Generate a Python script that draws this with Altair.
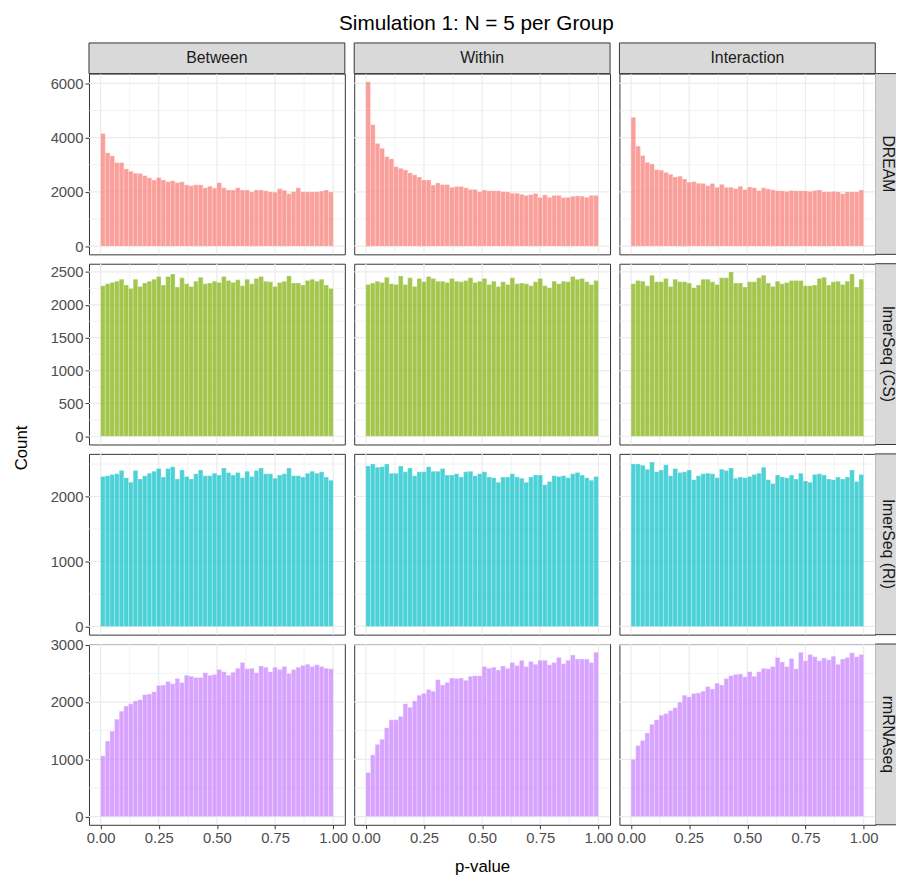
import altair as alt
import pandas as pd

# ---------------- data ----------------
methods = ["DREAM", "lmerSeq (CS)", "lmerSeq (RI)", "rmRNAseq"]
contrasts = ["Between", "Within", "Interaction"]
colors = ["#F8766D", "#7CAE00", "#00BFC4", "#C77CFF"]

bin_width = 0.02
bin_starts = [round(i * bin_width, 2) for i in range(50)]

dream_between = [4150,3440,3330,3080,3080,2850,2760,2690,2680,2600,2520,2440,2530,2440,2380,2410,2340,2370,2260,2230,2260,2260,2150,2210,2140,2340,2150,2070,2070,2150,2070,2070,2000,2070,2070,2040,2000,1990,2120,2060,1930,2010,2150,2000,2000,2000,2000,2030,2070,2000]
dream_within = [6060,4480,3790,3610,3300,3220,2930,2870,2810,2700,2630,2550,2440,2440,2250,2330,2270,2270,2170,2200,2200,2150,2090,2090,2010,2070,2040,2040,2040,2010,2000,1950,1950,1910,1870,1900,1940,1790,1890,1800,1870,1870,1790,1800,1840,1850,1840,1800,1870,1870]
dream_inter = [4750,3690,3340,3090,3030,2820,2800,2720,2650,2550,2580,2480,2360,2380,2320,2310,2230,2310,2170,2280,2170,2170,2120,2210,2090,2180,2150,2050,2150,2110,2070,2040,2040,2020,2050,2040,2040,2040,2020,2050,2070,2000,2000,2020,2000,1930,2000,2000,2000,2070]

cs_between = [2290,2320,2340,2360,2390,2300,2250,2390,2280,2330,2360,2390,2430,2300,2430,2470,2270,2410,2320,2280,2360,2420,2320,2330,2360,2340,2430,2370,2340,2380,2290,2390,2320,2400,2430,2360,2350,2280,2340,2360,2440,2330,2330,2300,2370,2390,2360,2390,2300,2250]
cs_within = [2310,2330,2360,2340,2420,2320,2310,2440,2310,2410,2280,2400,2350,2430,2400,2360,2360,2340,2400,2360,2350,2370,2410,2340,2360,2400,2310,2360,2280,2350,2310,2410,2320,2330,2320,2290,2350,2400,2290,2260,2360,2320,2360,2350,2430,2390,2400,2350,2310,2370]
cs_inter = [2320,2370,2360,2290,2450,2350,2350,2400,2280,2390,2350,2350,2330,2260,2300,2390,2390,2350,2310,2410,2410,2500,2330,2330,2270,2350,2350,2410,2450,2330,2280,2360,2320,2340,2370,2370,2370,2290,2290,2300,2400,2420,2300,2350,2360,2310,2360,2470,2270,2390]

ri_between = [2310,2320,2340,2350,2400,2290,2220,2400,2270,2320,2360,2390,2430,2300,2430,2460,2270,2410,2310,2270,2350,2410,2320,2320,2360,2330,2440,2370,2330,2370,2290,2390,2310,2400,2440,2350,2350,2280,2330,2350,2440,2320,2320,2300,2360,2390,2360,2380,2300,2250]
ri_within = [2470,2500,2450,2460,2500,2360,2360,2470,2380,2440,2320,2380,2380,2460,2390,2390,2430,2330,2330,2350,2300,2380,2390,2320,2350,2380,2300,2290,2220,2300,2300,2350,2300,2280,2220,2300,2330,2330,2180,2230,2320,2310,2320,2290,2350,2370,2330,2290,2250,2310]
ri_inter = [2500,2500,2480,2420,2530,2380,2410,2490,2320,2430,2370,2380,2410,2260,2320,2350,2360,2350,2290,2420,2400,2440,2280,2300,2290,2310,2340,2360,2450,2260,2200,2330,2300,2290,2330,2270,2360,2240,2220,2340,2350,2330,2270,2260,2300,2270,2300,2410,2230,2340]

rm_between = [1060,1320,1490,1700,1840,1930,1970,2020,2040,2130,2140,2180,2290,2300,2360,2320,2410,2340,2470,2450,2430,2430,2510,2470,2480,2570,2530,2470,2520,2590,2690,2580,2590,2510,2630,2610,2530,2610,2570,2620,2500,2570,2610,2640,2660,2620,2650,2620,2590,2580]
rm_within = [770,1080,1260,1350,1550,1690,1690,1750,1970,1910,2020,2120,2150,2220,2190,2390,2300,2340,2420,2410,2420,2380,2450,2460,2460,2620,2590,2610,2560,2630,2590,2690,2640,2730,2620,2710,2660,2730,2730,2650,2690,2780,2670,2730,2820,2750,2750,2750,2690,2870]
rm_inter = [1000,1240,1330,1460,1610,1690,1770,1800,1850,1900,2000,2120,2090,2150,2160,2190,2270,2230,2330,2300,2410,2460,2480,2490,2440,2530,2450,2530,2590,2580,2620,2780,2700,2620,2760,2580,2870,2720,2830,2790,2720,2770,2740,2800,2660,2750,2780,2860,2790,2830]

counts = [
    [dream_between, dream_within, dream_inter],
    [cs_between, cs_within, cs_inter],
    [ri_between, ri_within, ri_inter],
    [rm_between, rm_within, rm_inter],
]

y_ticks = [
    [0, 2000, 4000, 6000],
    [0, 500, 1000, 1500, 2000, 2500],
    [0, 1000, 2000],
    [0, 1000, 2000, 3000],
]
x_ticks = [0, 0.25, 0.5, 0.75, 1.0]

# ---------------- layout constants ----------------
W = 259
H = 183
GAP = 9.5
STRIP_H = 31
STRIP_W = 21
FONT = "Liberation Sans"
BORDER = "#333333"
STRIP_FILL = "#D9D9D9"
GRID = "#EBEBEB"
TICK_FS = 15
STRIP_FS = 16
AXTITLE_FS = 17

x_dom = [-0.05, 1.05]
x_minor = [(a + b) / 2 for a, b in zip(x_ticks[:-1], x_ticks[1:])]


def minor_of(ticks, dmax):
    step = ticks[1] - ticks[0]
    mids = [(a + b) / 2 for a, b in zip(ticks[:-1], ticks[1:])]
    if ticks[-1] + step / 2 <= dmax:
        mids.append(ticks[-1] + step / 2)
    return mids


one = pd.DataFrame({"k": [0]})


def make_panel(ri, ci):
    row_max = max(max(c) for c in counts[ri])
    y_dom = [-0.05 * row_max, 1.05 * row_max]
    xs = alt.Scale(domain=x_dom, nice=False, zero=False)
    ys = alt.Scale(domain=y_dom, nice=False, zero=False)

    df = pd.DataFrame({
        "x0": bin_starts,
        "x1": [round(b + bin_width, 2) for b in bin_starts],
        "count": counts[ri][ci],
    })

    if ri == 3:
        x_axis = alt.Axis(values=x_ticks, format=".2f", grid=False, domain=False,
                          title="p-value" if ci == 1 else None,
                          titleFontSize=AXTITLE_FS, titleFontWeight="normal", titleColor="black",
                          titlePadding=13, labelFlush=False, labelOverlap=False, labelBound=False)
    else:
        x_axis = None
    if ci == 0:
        y_kwargs = dict(values=y_ticks[ri], format="d", grid=False, domain=False, labelFlush=False,
                        labelOverlap=False, labelBound=False)
        if ri == 1:
            y_kwargs.update(title="Count", titleFontSize=AXTITLE_FS, titleFontWeight="normal",
                            titleColor="black", titleX=-59, titleY=186)
        else:
            y_kwargs.update(title=None)
        y_axis = alt.Axis(**y_kwargs)
    else:
        y_axis = None

    gx_min = alt.Chart(pd.DataFrame({"g": x_minor})).mark_rule(color=GRID, strokeWidth=0.6).encode(
        x=alt.X("g:Q", scale=xs, axis=x_axis))
    gx_maj = alt.Chart(pd.DataFrame({"g": x_ticks})).mark_rule(color=GRID, strokeWidth=1.2).encode(
        x=alt.X("g:Q", scale=xs, axis=x_axis))
    gy_min = alt.Chart(pd.DataFrame({"g": minor_of(y_ticks[ri], y_dom[1])})).mark_rule(color=GRID, strokeWidth=0.6).encode(
        y=alt.Y("g:Q", scale=ys, axis=y_axis))
    gy_maj = alt.Chart(pd.DataFrame({"g": y_ticks[ri]})).mark_rule(color=GRID, strokeWidth=1.2).encode(
        y=alt.Y("g:Q", scale=ys, axis=y_axis))

    bars = alt.Chart(df).mark_rect(
        fill=colors[ri], fillOpacity=0.7, stroke="white", strokeWidth=0.4, strokeOpacity=0.7
    ).encode(
        x=alt.X("x0:Q", scale=xs, axis=x_axis),
        x2="x1:Q",
        y=alt.Y("count:Q", scale=ys, axis=y_axis),
        y2=alt.datum(0),
    )

    layers = [gx_min, gx_maj, gy_min, gy_maj, bars]

    if ri == 0:
        top_rect = alt.Chart(one).mark_rect(fill=STRIP_FILL, stroke=BORDER, strokeWidth=1).encode(
            x=alt.value(0), x2=alt.value(W), y=alt.value(-STRIP_H), y2=alt.value(0))
        top_text = alt.Chart(one).mark_text(fontSize=STRIP_FS, color="#1A1A1A", baseline="middle", align="center").encode(
            x=alt.value(W / 2), y=alt.value(-STRIP_H / 2), text=alt.value(contrasts[ci]))
        layers += [top_rect, top_text]
    if ci == 2:
        side_rect = alt.Chart(one).mark_rect(fill=STRIP_FILL).encode(
            x=alt.value(W), x2=alt.value(W + STRIP_W), y=alt.value(0), y2=alt.value(H))
        side_top = alt.Chart(one).mark_rule(color=BORDER, strokeWidth=1).encode(
            x=alt.value(W), x2=alt.value(W + STRIP_W), y=alt.value(0))
        side_bot = alt.Chart(one).mark_rule(color=BORDER, strokeWidth=1).encode(
            x=alt.value(W), x2=alt.value(W + STRIP_W), y=alt.value(H))
        side_text = alt.Chart(one).mark_text(fontSize=STRIP_FS, color="#1A1A1A", baseline="middle",
                                             align="center", angle=90).encode(
            x=alt.value(W + 13), y=alt.value(H / 2), text=alt.value(methods[ri]))
        layers += [side_rect, side_top, side_bot, side_text]

    return alt.layer(*layers).properties(width=W, height=H)


panels = [make_panel(ri, ci) for ri in range(4) for ci in range(3)]

chart = alt.concat(*panels, columns=3, spacing=GAP, bounds="flush").properties(
    title=alt.TitleParams("Simulation 1: N = 5 per Group", fontSize=21, fontWeight="normal",
                          color="black", anchor="middle", font=FONT, offset=8, dx=22),
    padding={"left": 4, "top": 0, "right": 0, "bottom": 0},
).configure(font=FONT).configure_view(
    stroke=BORDER, strokeWidth=1, fill="white"
).configure_axis(
    tickColor=BORDER, tickSize=4, tickWidth=1, labelPadding=2, labelFontSize=TICK_FS,
    labelColor="#4D4D4D", labelFont=FONT, titleFont=FONT,
)

chart.save("out.html", embed_options={"renderer": "svg", "actions": False})
